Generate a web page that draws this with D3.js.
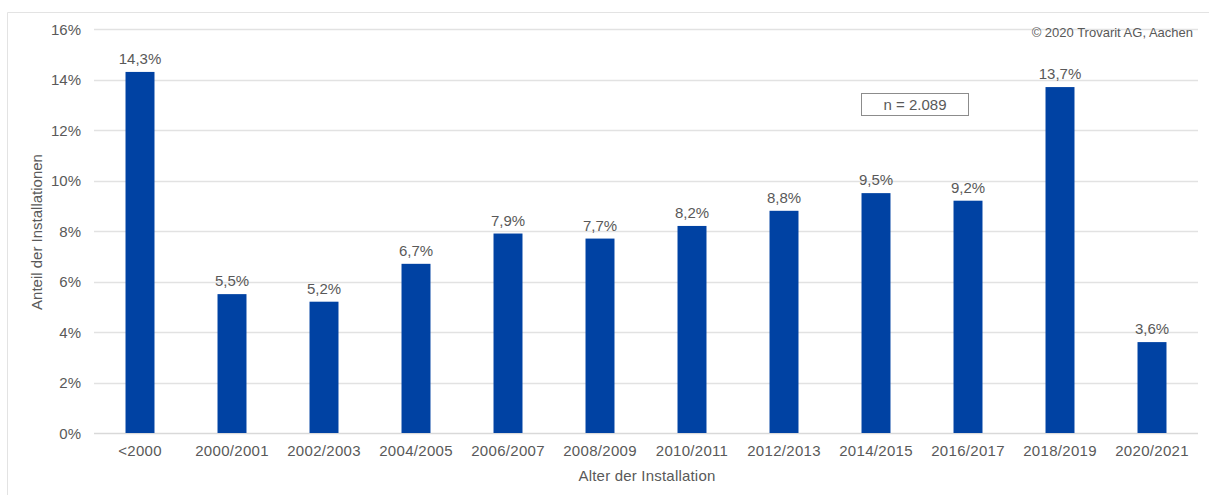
<!DOCTYPE html>
<html><head><meta charset="utf-8">
<script src="https://cdn.jsdelivr.net/npm/d3@7"></script>
<style>body{margin:0;background:#fff}text{font-family:"Liberation Sans",Arial,sans-serif}</style>
</head><body>
<svg id="c" width="1209" height="495"></svg>
<script>
const categories = ["<2000","2000/2001","2002/2003","2004/2005","2006/2007","2008/2009","2010/2011","2012/2013","2014/2015","2016/2017","2018/2019","2020/2021"];
const values = [14.3,5.5,5.2,6.7,7.9,7.7,8.2,8.8,9.5,9.2,13.7,3.6];
const yTicks = [0,2,4,6,8,10,12,14,16];
const xTitle = "Alter der Installation";
const yTitle = "Anteil der Installationen";
const copyright = "© 2020 Trovarit AG, Aachen";
const nLabel = "n = 2.089";

const svg = d3.select("#c");
const txt = "#595959";
const fs = "15px";
// frame
svg.append("line").attr("x1",7.5).attr("x2",1209).attr("y1",12.5).attr("y2",12.5).attr("stroke","#e3e3e3");
svg.append("line").attr("x1",7.5).attr("x2",7.5).attr("y1",12.5).attr("y2",495).attr("stroke","#e3e3e3");

const x = d3.scaleBand().domain(categories).range([94,1198]).paddingInner(0.685).paddingOuter(0.3425);
const y = d3.scaleLinear().domain([0,16]).range([433,29]);

const g = svg.append("g");
g.selectAll("line.grid").data(yTicks).join("line")
  .attr("x1",94).attr("x2",1198)
  .attr("y1",d=>Math.round(y(d))+0.5).attr("y2",d=>Math.round(y(d))+0.5)
  .attr("stroke",d=>d===0?"#d9d9d9":"#e2e2e2").attr("stroke-width",1.3);

const yAxis = d3.axisLeft(y).tickValues(yTicks).tickSize(0).tickPadding(0).tickFormat(d=>d+"%");
const ya = svg.append("g").attr("transform","translate(81,0)").call(yAxis);
ya.select(".domain").remove();
ya.selectAll("text").attr("fill",txt).style("font-size",fs).attr("dy","0.35em");

const xAxis = d3.axisBottom(x).tickSize(0).tickPadding(0);
const xa = svg.append("g").attr("transform","translate(0,445)").call(xAxis);
xa.select(".domain").remove();
xa.selectAll("text").attr("fill",txt).style("font-size",fs).style("letter-spacing","0.3px").attr("dy","0.75em");

g.selectAll("rect.bar").data(values).join("rect")
  .attr("x",(d,i)=>x(categories[i])).attr("width",x.bandwidth())
  .attr("y",d=>y(d)).attr("height",d=>y(0)-y(d)).attr("fill","#0042A3");

g.selectAll("text.lbl").data(values).join("text")
  .attr("x",(d,i)=>x(categories[i])+x.bandwidth()/2).attr("y",d=>y(d)-8)
  .attr("text-anchor","middle").attr("fill",txt).style("font-size",fs)
  .text(d=>d.toFixed(1).replace(".",",")+"%");

svg.append("text").attr("x",647).attr("y",481).attr("text-anchor","middle").attr("fill",txt).style("font-size",fs).style("letter-spacing","0.2px").text(xTitle);
svg.append("text").attr("transform","translate(42,232) rotate(-90)").attr("text-anchor","middle").attr("fill",txt).style("font-size",fs).text(yTitle);
svg.append("text").attr("x",1193).attr("y",37).attr("text-anchor","end").attr("fill",txt).style("font-size","13px").text(copyright);

svg.append("rect").attr("x",861.5).attr("y",93.5).attr("width",107).attr("height",22).attr("fill","#fff").attr("stroke","#8c8c8c");
svg.append("text").attr("x",915).attr("y",109.5).attr("text-anchor","middle").attr("fill",txt).style("font-size",fs).text(nLabel);
</script>
</body></html>
